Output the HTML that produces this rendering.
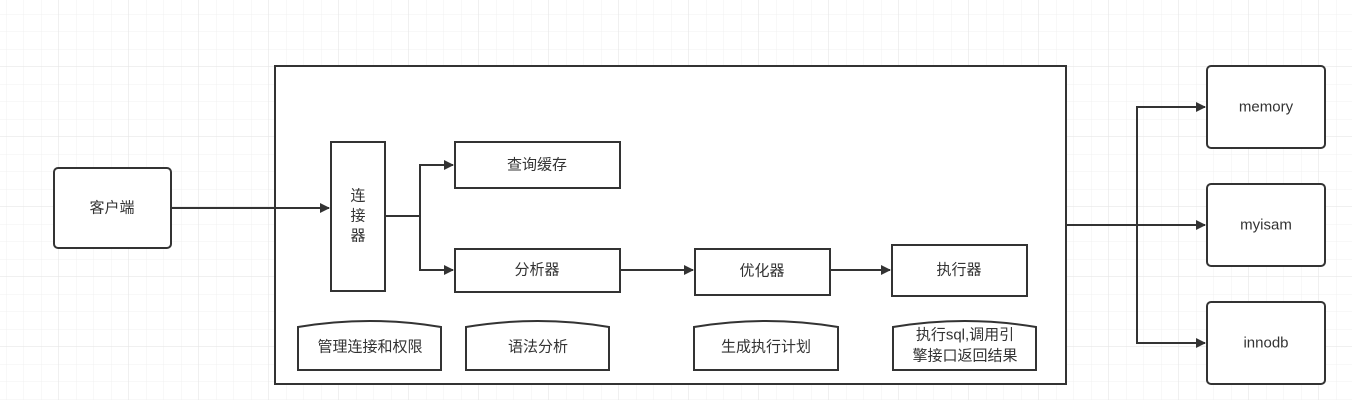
<!DOCTYPE html>
<html><head><meta charset="utf-8"><style>
html,body{margin:0;padding:0;background:#fff;}
svg text{font-family:"Liberation Sans","Noto Sans CJK SC",sans-serif;font-size:15px;fill:#333;text-anchor:middle;dominant-baseline:central;}
</style></head><body>
<svg width="1352" height="400" xmlns="http://www.w3.org/2000/svg">
<defs>
<pattern id="mg" width="17.5" height="17.5" patternUnits="userSpaceOnUse" x="-11" y="-3">
<path d="M17.5 0V17.5M0 17.5H17.5" stroke="#f1f1f1" stroke-width="1" fill="none"/></pattern>
<pattern id="Mg" width="70" height="70" patternUnits="userSpaceOnUse" x="-11" y="-3">
<path d="M70 0V70M0 70H70" stroke="#e6e6e6" stroke-width="1.2" fill="none"/></pattern>
<marker id="a" markerWidth="10" markerHeight="10" refX="9" refY="5" orient="auto" markerUnits="userSpaceOnUse"><path d="M0,0L10,5L0,10z" fill="#333"/></marker>
</defs>
<rect width="1352" height="400" fill="url(#mg)"/>
<rect width="1352" height="400" fill="url(#Mg)"/>
<g stroke="#333" stroke-width="2" fill="#fff">
<rect x="275" y="66" width="791" height="318"/>
<rect x="54" y="168" width="117" height="80" rx="4"/>
<rect x="331" y="142" width="54" height="149"/>
<rect x="455" y="142" width="165" height="46"/>
<rect x="455" y="249" width="165" height="43"/>
<rect x="695" y="249" width="135" height="46"/>
<rect x="892" y="245" width="135" height="51"/>
<rect x="1207" y="66" width="118" height="82" rx="4"/>
<rect x="1207" y="184" width="118" height="82" rx="4"/>
<rect x="1207" y="302" width="118" height="82" rx="4"/>
<path d="M298,327 Q370,315 441,327 V370 H298Z"/>
<path d="M466,327 Q538,315 609,327 V370 H466Z"/>
<path d="M694,327 Q766,315 838,327 V370 H694Z"/>
<path d="M893,327 Q965,315 1036,327 V370 H893Z"/>
</g>
<g stroke="#333" stroke-width="2" fill="none">
<path d="M171,208H329" marker-end="url(#a)"/>
<path d="M385,216H420V165H453" marker-end="url(#a)"/>
<path d="M420,216V270H453" marker-end="url(#a)"/>
<path d="M620,270H693" marker-end="url(#a)"/>
<path d="M830,270H890" marker-end="url(#a)"/>
<path d="M1066,225H1205" marker-end="url(#a)"/>
<path d="M1137,225V107H1205" marker-end="url(#a)"/>
<path d="M1137,225V343H1205" marker-end="url(#a)"/>
</g>
<text x="112" y="208">客户端</text>
<text x="358" y="196">连</text><text x="358" y="216">接</text><text x="358" y="236">器</text>
<text x="537" y="165">查询缓存</text>
<text x="537" y="270">分析器</text>
<text x="762" y="271">优化器</text>
<text x="959" y="270">执行器</text>
<text x="1266" y="107">memory</text>
<text x="1266" y="225">myisam</text>
<text x="1266" y="343">innodb</text>
<text x="370" y="347">管理连接和权限</text>
<text x="538" y="347">语法分析</text>
<text x="766" y="347">生成执行计划</text>
<text x="965" y="335">执行sql,调用引</text>
<text x="965" y="356">擎接口返回结果</text>
</svg>
</body></html>
